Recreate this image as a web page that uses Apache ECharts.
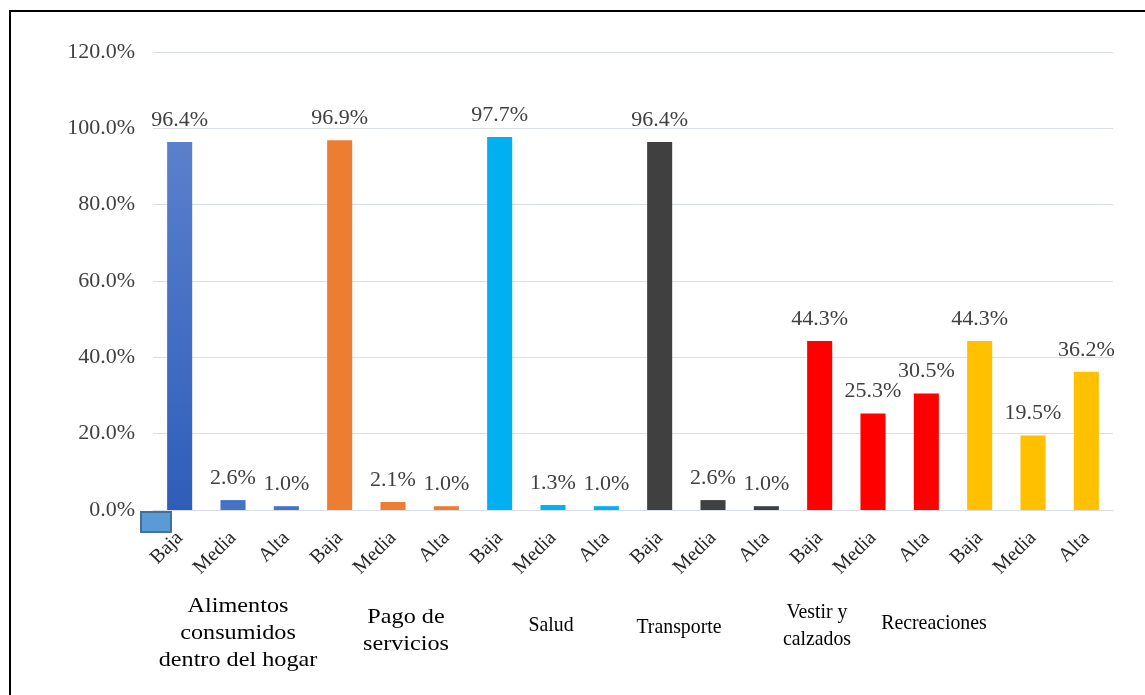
<!DOCTYPE html>
<html>
<head>
<meta charset="utf-8">
<script src="https://cdn.jsdelivr.net/npm/echarts@6/dist/echarts.min.js"></script>
<style>
html,body{margin:0;padding:0;background:#fff;}
#chart{width:1145px;height:695px;}
</style>
</head>
<body>
<div id="chart"></div>
<script>
const groups = ["Alimentos\nconsumidos\ndentro del hogar", "Pago de\nservicios", "Salud", "Transporte", "Vestir y\ncalzados", "Recreaciones"];
const levels = ["Baja", "Media", "Alta"];
const values = [
  [96.4, 2.6, 1.0],
  [96.9, 2.1, 1.0],
  [97.7, 1.3, 1.0],
  [96.4, 2.6, 1.0],
  [44.3, 25.3, 30.5],
  [44.3, 19.5, 36.2]
];
const yTicks = [0, 20, 40, 60, 80, 100, 120];
const palette = ["#4472C4", "#ED7D31", "#00B0F0", "#404040", "#FF0000", "#FFC000"];

const serif = "'Liberation Serif', 'DejaVu Serif', serif";
const cats = [];
const barData = [];
groups.forEach((g, gi) => {
  levels.forEach((l, li) => {
    cats.push(l);
    let color = palette[gi];
    if (gi === 0 && li === 0) {
      color = new echarts.graphic.LinearGradient(0, 0, 0, 1, [
        {offset: 0, color: '#5B80CC'},
        {offset: 1, color: '#2E5DB9'}
      ]);
    }
    barData.push({value: values[gi][li], itemStyle: {color: color}});
  });
});

const groupPos = [[238, 633], [406, 631], [551, 625], [679, 627], [817, 626], [934, 623]];
const groupScaleX = [1.1, 1.1, 0.9, 0.9, 0.9, 0.9];

const chart = echarts.init(document.getElementById('chart'));
const option = {
  animation: false,
  backgroundColor: '#fff',
  grid: {left: 153, right: 32, top: 52, bottom: 185},
  xAxis: {
    type: 'category',
    data: cats,
    axisTick: {show: false},
    axisLine: {lineStyle: {color: '#D9DEE6', width: 1}},
    axisLabel: {
      interval: 0, rotate: 45, margin: 25,
      fontFamily: serif, fontSize: 20, color: '#262626'
    }
  },
  yAxis: {
    type: 'value',
    min: yTicks[0], max: yTicks[yTicks.length - 1], interval: 20,
    axisLine: {show: false},
    axisTick: {show: false},
    splitLine: {lineStyle: {color: '#D9DEE6', width: 1}},
    axisLabel: {
      margin: 18,
      fontFamily: serif, fontSize: 22, color: '#404040',
      formatter: v => v.toFixed(1) + '%'
    }
  },
  series: [{
    type: 'bar',
    data: barData,
    barWidth: '47%',
    label: {
      show: true, position: 'top', distance: 11,
      fontFamily: serif, fontSize: 22, color: '#404040',
      formatter: p => p.value.toFixed(1) + '%'
    }
  }],
  graphic: [
    {
      type: 'rect', z: 100, silent: true,
      shape: {x: 10, y: 11, width: 1400, height: 1000},
      style: {fill: 'none', stroke: '#000', lineWidth: 2}
    },
    {
      type: 'rect', z: 100, silent: true,
      shape: {x: 141, y: 512, width: 30, height: 20},
      style: {fill: '#5B9BD5', stroke: '#41719C', lineWidth: 2}
    }
  ].concat(groups.map((g, i) => ({
    type: 'text', z: 100, silent: true,
    x: groupPos[i][0], y: groupPos[i][1],
    scaleX: groupScaleX[i],
    style: {
      text: g, fontFamily: serif, fontSize: 22, fill: '#000',
      align: 'center', verticalAlign: 'middle', lineHeight: 27
    }
  })))
};
chart.setOption(option);
</script>
</body>
</html>
